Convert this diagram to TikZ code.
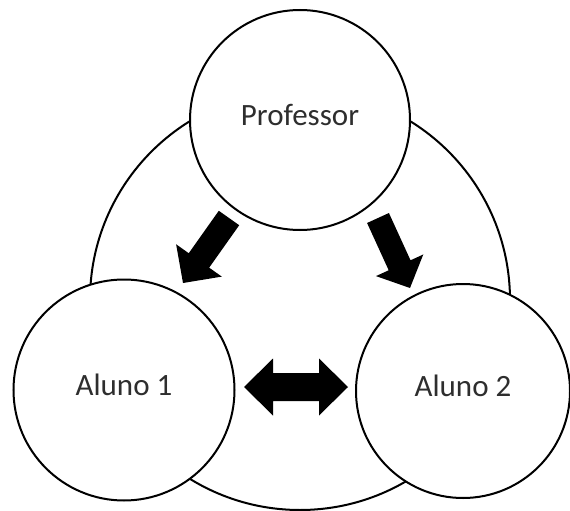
\documentclass[tikz,border=0pt]{standalone}
\usepackage{fontspec}
\setmainfont{Carlito}
\usetikzlibrary{calc}
\begin{document}
\begin{tikzpicture}[x=1pt,y=-1pt,
  ring/.style={circle,draw=black,line width=2pt,fill=white,inner sep=0pt,
    font=\fontsize{31}{36}\selectfont,text=black!82,text height=20pt,text depth=10pt},
  blockarrow/.style={fill=black,draw=none}]
\useasboundingbox (0,0) rectangle (570,511);
% outer circle
\node[circle,draw=black,line width=2pt,minimum size=420pt,inner sep=0pt] (outer) at (300,300) {};
% main circles
\node[ring,minimum size=220pt] (prof) at (300,120) {Professor};
\node[ring,minimum size=221pt] (a1) at (124,390) {Aluno 1};
\node[ring,minimum size=214pt] (a2) at (463,391) {Aluno 2};
% left arrow
\coordinate (lt) at (229,218);
\coordinate (lp) at (183,283);
\coordinate (lh) at ($(lt)!52pt!(lp)$);
\path[blockarrow] ($(lt)!12.5pt!90:(lp)$) -- ($(lh)!12.5pt!-90:(lt)$) -- ($(lh)!28pt!-90:(lt)$)
  -- (lp) -- ($(lh)!28pt!90:(lt)$) -- ($(lh)!12.5pt!90:(lt)$) -- ($(lt)!12.5pt!-90:(lp)$) -- cycle;
% right arrow
\coordinate (rt) at (378,218);
\coordinate (rp) at (410,288);
\coordinate (rh) at ($(rt)!52pt!(rp)$);
\path[blockarrow] ($(rt)!12pt!90:(rp)$) -- ($(rh)!12pt!-90:(rt)$) -- ($(rh)!26pt!-90:(rt)$)
  -- (rp) -- ($(rh)!26pt!90:(rt)$) -- ($(rh)!12pt!90:(rt)$) -- ($(rt)!12pt!-90:(rp)$) -- cycle;
% double arrow
\coordinate (dl) at (244,387);
\coordinate (dr) at (348,387);
\path[blockarrow] (dl) -- ($(dl)+(29,-28.5)$) -- ($(dl)+(29,-14)$) -- ($(dr)+(-29,-14)$)
  -- ($(dr)+(-29,-28.5)$) -- (dr) -- ($(dr)+(-29,28.5)$) -- ($(dr)+(-29,14)$)
  -- ($(dl)+(29,14)$) -- ($(dl)+(29,28.5)$) -- cycle;
\end{tikzpicture}
\end{document}
